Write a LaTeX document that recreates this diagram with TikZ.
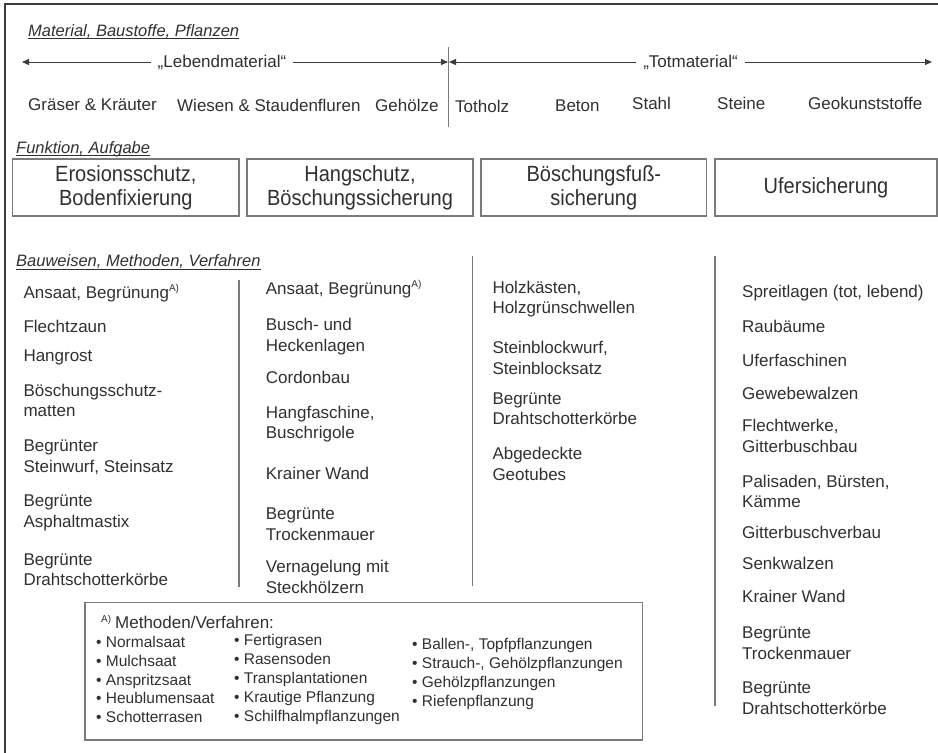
\documentclass[tikz,border=0pt]{standalone}
\usepackage{fontspec}
\setmainfont{Liberation Sans}
\newfontfamily\condfont{Liberation Sans}[FakeStretch=0.91]
\usetikzlibrary{arrows.meta}
\definecolor{txt}{HTML}{303030}
\definecolor{ln}{HTML}{7A7A7A}
\definecolor{frm}{HTML}{3C3C3C}
\newcommand\supA{\raisebox{0.45em}{\fontsize{10}{10}\selectfont A)}}
\begin{document}
\begin{tikzpicture}[x=1pt,y=-1pt,
  item/.style={anchor=west,align=left,inner sep=0pt,text=txt,font=\fontsize{17}{20.5}\selectfont},
  mat/.style={anchor=west,inner sep=0pt,text=txt,font=\fontsize{17}{20}\selectfont},
  hdr/.style={anchor=base west,inner sep=0pt,text=txt,font=\fontsize{16.5}{20}\selectfont\itshape},
  ulin/.style={draw=txt,line width=0.8pt},
  funcbox/.style={draw=ln,line width=1.3pt,inner sep=0pt,align=center,text=txt,font=\condfont\fontsize{22}{24}\selectfont},
  divider/.style={draw=ln,line width=1.4pt},
  matarrow/.style={draw=frm,line width=1pt,{Triangle[length=7pt,width=6pt]}-{Triangle[length=7pt,width=6pt]}},
  matlabel/.style={fill=white,inner xsep=7pt,inner ysep=1pt,text=txt,font=\fontsize{17}{20}\selectfont},
  fitem/.style={anchor=west,align=left,inner sep=0pt,text=txt,font=\fontsize{15.5}{18.9}\selectfont},
]
\useasboundingbox (0,0) rectangle (938,753);
% outer frame
\draw[frm,line width=1.5pt] (938,4) -- (5,4) -- (5,753);

% ---- Material header
\node[hdr] (h1) at (28,36) {Material, Baustoffe, Pflanzen};
\draw[ulin] ([yshift=-2.5pt]h1.base west) -- ([yshift=-2.5pt]h1.base east);

\coordinate (la) at (22,62);
\coordinate (lb) at (448,62);
\coordinate (ra) at (449,62);
\coordinate (rb) at (932,62);
\draw[matarrow] (la) -- (lb);
\draw[matarrow] (ra) -- (rb);
\node[matlabel] (leb) at (222,62) {„Lebendmaterial“};
\node[matlabel] (tot) at (690.5,62) {„Totmaterial“};
\coordinate (dt) at (448.5,46.7);
\coordinate (db) at (448.5,126.7);
\draw[divider] (dt) -- (db);

\node[mat] (m1) at (28,105) {Gräser \& Kräuter};
\node[mat] (m2) at (177,105) {Wiesen \& Staudenfluren};
\node[mat] (m3) at (375,105) {Gehölze};
\node[mat] (m4) at (455,106) {Totholz};
\node[mat] (m5) at (555,106) {Beton};
\node[mat] (m6) at (632,103) {Stahl};
\node[mat] (m7) at (717,103) {Steine};
\node[mat] (m8) at (808,103) {Geokunststoffe};

% ---- Funktion header
\node[hdr] (h2) at (16,153.3) {Funktion, Aufgabe};
\draw[ulin] ([yshift=-2.5pt]h2.base west) -- ([yshift=-2.5pt]h2.base east);

\node[funcbox,minimum width=226.3pt,minimum height=57pt] (f1) at (125.85,187.5) {Erosionsschutz,\\Bodenfixierung};
\node[funcbox,minimum width=226pt,minimum height=57pt] (f2) at (360,187.5) {Hangschutz,\\Böschungssicherung};
\node[funcbox,minimum width=225.7pt,minimum height=57pt] (f3) at (593.85,187.5) {Böschungsfuß-\\sicherung};
\node[funcbox,minimum width=222pt,minimum height=57pt] (f4) at (826,187.5) {Ufersicherung};

% ---- Bauweisen header
\node[hdr] (h3) at (16,266.7) {Bauweisen, Methoden, Verfahren};
\draw[ulin] ([yshift=-2.5pt]h3.base west) -- ([yshift=-2.5pt]h3.base east);

% dividers
\coordinate (d1t) at (239,280);  \coordinate (d1b) at (239,587);
\coordinate (d2t) at (472.7,256); \coordinate (d2b) at (472.7,586);
\coordinate (d3t) at (715,256);  \coordinate (d3b) at (715,706);
\draw[divider] (d1t) -- (d1b);
\draw[divider] (d2t) -- (d2b);
\draw[divider] (d3t) -- (d3b);

% column 1
\node[item] (a1) at (23.3,293) {Ansaat, Begrünung\supA};
\node[item] (a2) at (23.3,326) {Flechtzaun};
\node[item] (a3) at (23.3,357) {Hangrost};
\node[item] (a4) at (23.3,400.5) {Böschungsschutz-\\matten};
\node[item] (a5) at (23.3,457) {Begrünter\\Steinwurf, Steinsatz};
\node[item] (a6) at (23.3,513) {Begrünte\\Asphaltmastix};
\node[item] (a7) at (23.3,569.5) {Begrünte\\Drahtschotterkörbe};

% column 2
\node[item] (b1) at (265.7,289) {Ansaat, Begrünung\supA};
\node[item] (b2) at (265.7,336.5) {Busch- und\\Heckenlagen};
\node[item] (b3) at (265.7,377) {Cordonbau};
\node[item] (b4) at (265.7,424) {Hangfaschine,\\Buschrigole};
\node[item] (b5) at (265.7,473) {Krainer Wand};
\node[item] (b6) at (265.7,524) {Begrünte\\Trockenmauer};
\node[item] (b7) at (265.7,577) {Vernagelung mit\\Steckhölzern};

% column 3
\node[item] (c1) at (492.3,299) {Holzkästen,\\Holzgrünschwellen};
\node[item] (c2) at (492.3,358) {Steinblockwurf,\\Steinblocksatz};
\node[item] (c3) at (492.3,408.5) {Begrünte\\Drahtschotterkörbe};
\node[item] (c4) at (492.3,464) {Abgedeckte\\Geotubes};

% column 4
\node[item] (e1) at (742,293) {Spreitlagen (tot, lebend)};
\node[item] (e2) at (742,326) {Raubäume};
\node[item] (e3) at (742,360) {Uferfaschinen};
\node[item] (e4) at (742,393) {Gewebewalzen};
\node[item] (e5) at (742,436) {Flechtwerke,\\Gitterbuschbau};
\node[item] (e6) at (742,491.5) {Palisaden, Bürsten,\\Kämme};
\node[item] (e7) at (742,532) {Gitterbuschverbau};
\node[item] (e8) at (742,563) {Senkwalzen};
\node[item] (e9) at (742,596.7) {Krainer Wand};
\node[item] (e10) at (742,643) {Begrünte\\Trockenmauer};
\node[item] (e11) at (742,698.3) {Begrünte\\Drahtschotterkörbe};

% footnote box
\node[draw=ln,line width=1.3pt,minimum width=557.7pt,minimum height=137.3pt,inner sep=0pt] (fn) at (363.85,671.35) {};
\node[anchor=west,inner sep=0pt,text=txt,font=\fontsize{17}{20}\selectfont] (fh) at (101,622) {\raisebox{0.4em}{\fontsize{10}{10}\selectfont A)}\kern4pt Methoden/Verfahren:};
\node[fitem] (fa) at (96,679.5) {• Normalsaat\\• Mulchsaat\\• Anspritzsaat\\• Heublumensaat\\• Schotterrasen};
\node[fitem] (fb) at (234,679.5) {• Fertigrasen\\• Rasensoden\\• Transplantationen\\• Krautige Pflanzung\\• Schilfhalmpflanzungen};
\node[fitem] (fc) at (412,674.2) {• Ballen-, Topfpflanzungen\\• Strauch-, Gehölzpflanzungen\\• Gehölzpflanzungen\\• Riefenpflanzung};
\end{tikzpicture}
\end{document}
